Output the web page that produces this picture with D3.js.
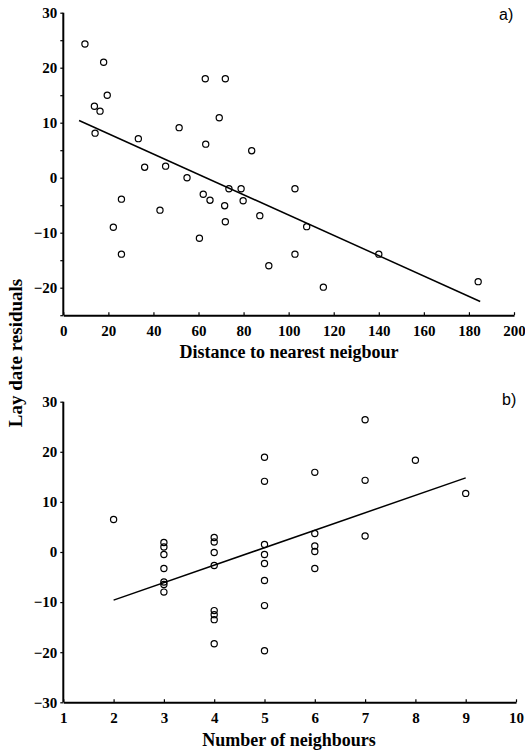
<!DOCTYPE html>
<html>
<head>
<meta charset="utf-8">
<script src="https://cdn.jsdelivr.net/npm/d3@7"></script>
<style>
html,body{margin:0;padding:0;background:#fff;}
svg{display:block;}
</style>
</head>
<body>
<svg id="chart" width="525" height="752"></svg>
<script>
// Panel a: distance to nearest neighbour vs lay date residuals
const distX = [9.6,17.9,19.5,13.8,16.3,14.1,33.3,36.1,45.4,51.4,54.9,63.0,71.9,69.2,63.2,83.6,62.1,65.1,73.5,78.9,79.8,71.6,71.9,87.2,25.8,42.9,22.2,25.8,60.4,91.2,102.8,108.0,102.8,115.4,140.0,184.1];
const distY = [24.3,21.0,15.0,13.0,12.1,8.1,7.1,1.9,2.1,9.1,0.0,18.0,18.0,10.9,6.1,4.9,-3.0,-4.1,-2.0,-2.0,-4.2,-5.1,-8.0,-6.9,-3.9,-5.9,-9.0,-13.9,-11.0,-16.0,-2.0,-8.9,-13.9,-19.9,-13.9,-18.9];
const fitA = [[7.0,10.4],[185,-22.5]];
const ticksAX = [0,20,40,60,80,100,120,140,160,180,200];
const ticksAY = [-20,-10,0,10,20,30];
const minorAY = [-25,-20,-15,-10,-5,0,5,10,15,20,25,30];

// Panel b: number of neighbours vs lay date residuals
const nbX = [2,3,3,3,3,3,3,3,4,4,4,4,4,4,4,4,5,5,5,5,5,5,5,5,6,6,6,6,6,7,7,7,8,9];
const nbY = [6.5,1.9,1.0,-0.5,-3.3,-6.0,-6.5,-8.0,2.9,2.0,-0.1,-2.7,-11.7,-12.5,-13.5,-18.3,18.9,14.1,1.5,-0.5,-2.3,-5.7,-10.7,-19.7,15.9,3.7,1.2,0.1,-3.3,26.4,14.3,3.2,18.3,11.7];
const fitB = [[2,-9.6],[9,14.8]];
const ticksBX = [1,2,3,4,5,6,7,8,9,10];
const ticksBY = [-30,-20,-10,0,10,20,30];

const svg = d3.select("#chart");
const serif = "'Liberation Serif','Times New Roman',serif";
const sans = "'Liberation Sans',Arial,sans-serif";

function panel(cfg){
  const g = svg.append("g");
  const x = d3.scaleLinear().domain(cfg.xd).range(cfg.xr);
  const y = d3.scaleLinear().domain(cfg.yd).range(cfg.yr);
  // y axis
  const ya = d3.axisLeft(y).tickValues(cfg.yminor).tickSize(3).tickFormat(d => cfg.yticks.includes(d) ? d3.format("d")(d) : "");
  const gy = g.append("g").attr("transform", `translate(${cfg.xr[0]},0)`).call(ya);
  // x axis (ticks inward)
  const xa = d3.axisBottom(x).tickValues(cfg.xticks).tickSizeInner(-3).tickSizeOuter(0).tickPadding(10).tickFormat(d3.format("d"));
  const gx = g.append("g").attr("transform", `translate(0,${cfg.yr[0]})`).call(xa);
  [gx, gy].forEach(a => {
    a.select(".domain").attr("stroke","#000").attr("stroke-width",2);
    a.selectAll(".tick line").attr("stroke","#000").attr("stroke-width",1.2);
    a.selectAll("text").attr("font-family", serif).attr("font-weight","bold").attr("font-size","15px").attr("fill","#000");
  });
  gy.select(".domain").attr("d", `M-0,${cfg.yr[0]}V${cfg.yr[1]}`);
  gy.selectAll(".tick text").attr("x",-6);
  // fit line
  g.append("line")
    .attr("x1", x(cfg.fit[0][0])).attr("y1", y(cfg.fit[0][1]))
    .attr("x2", x(cfg.fit[1][0])).attr("y2", y(cfg.fit[1][1]))
    .attr("stroke","#000").attr("stroke-width",1.5);
  // points
  g.selectAll("circle").data(cfg.px.map((v,i)=>[v,cfg.py[i]])).enter().append("circle")
    .attr("cx", d => x(d[0])).attr("cy", d => y(d[1])).attr("r", 3.1)
    .attr("fill","none").attr("stroke","#000").attr("stroke-width",1.2);
  // axis title
  g.append("text").attr("x", cfg.titleX).attr("y", cfg.titleY).attr("text-anchor","middle")
    .attr("font-family", serif).attr("font-weight","bold").attr("font-size","18px").text(cfg.title);
  // panel letter
  g.append("text").attr("x", cfg.letterX).attr("y", cfg.letterY)
    .attr("font-family", sans).attr("font-size","16px").text(cfg.letter);
}

panel({xd:[0,200], xr:[63.3,514], yd:[-25,30], yr:[315.2,12.7],
  xticks:ticksAX, yticks:ticksAY, yminor:minorAY,
  px:distX, py:distY, fit:fitA,
  title:"Distance to nearest neigbour", titleX:289, titleY:358,
  letter:"a)", letterX:499, letterY:20});

panel({xd:[1,10], xr:[63.3,516], yd:[-30,30], yr:[702.3,401.7],
  xticks:ticksBX, yticks:ticksBY, yminor:ticksBY,
  px:nbX, py:nbY, fit:fitB,
  title:"Number of neighbours", titleX:289, titleY:746,
  letter:"b)", letterX:502, letterY:405});

svg.append("text").attr("transform","translate(22,353) rotate(-90)").attr("text-anchor","middle")
  .attr("font-family", serif).attr("font-weight","bold").attr("font-size","19px").text("Lay date residuals");
</script>
</body>
</html>
